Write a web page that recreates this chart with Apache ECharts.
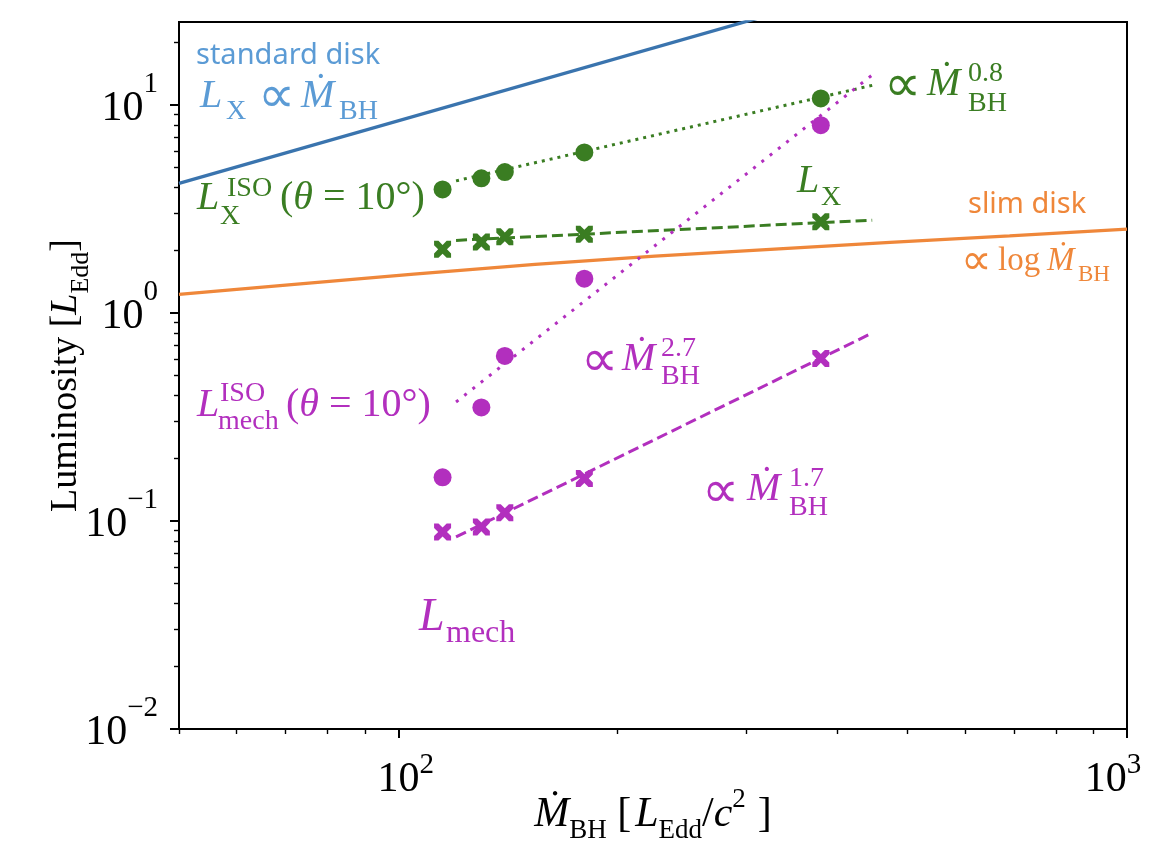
<!DOCTYPE html>
<html><head><meta charset="utf-8">
<script src="https://cdn.jsdelivr.net/npm/echarts@6/dist/echarts.min.js"></script>
<style>html,body{margin:0;padding:0;background:#fff}#c{width:1168px;height:862px}</style>
</head><body><div id="c"></div><script>
// ---------- data ----------
const mdot = [115, 130, 140, 180, 380];
const lxIso = [3.92, 4.43, 4.75, 5.90, 10.73];
const lx = [2.02, 2.19, 2.32, 2.39, 2.74];
const lmechIso = [0.162, 0.351, 0.621, 1.46, 7.98];
const lmech = [0.0885, 0.0936, 0.1096, 0.160, 0.604];
const fitX = [120, 447];
const fitLxIso = [4.31, 12.4];
const fitLx = [2.23, 2.79];
const fitLmechIso = [0.373, 13.9];
const fitLmech = [0.0838, 0.80];
const stdX = [50, 320];
const stdL = [4.19, 26.8];
const slimX = [50, 72, 105, 154, 225, 324, 473, 690, 1000];
const slimL = [1.226, 1.37, 1.535, 1.71, 1.874, 2.02, 2.18, 2.344, 2.526];
const xMajor = [100, 1000];
const yMajor = [0.01, 0.1, 1, 10];
const xMinor = [50, 60, 70, 80, 90, 200, 300, 400, 500, 600, 700, 800, 900];
const yMinor = [0.02, 0.03, 0.04, 0.05, 0.06, 0.07, 0.08, 0.09,
                0.2, 0.3, 0.4, 0.5, 0.6, 0.7, 0.8, 0.9,
                2, 3, 4, 5, 6, 7, 8, 9, 20];

// ---------- styles ----------
const SERIF = '"Liberation Serif","DejaVu Serif",serif';
const SANS = '"Noto Sans","Liberation Sans",sans-serif';
const SYM = '"DejaVu Sans","Noto Sans",sans-serif';
const GREEN = '#3a7d22', MAG = '#b22fbe', BLUE = '#3a74ae', LBLUE = '#5b9bd5', ORANGE = '#ef873a';
const XPATH = 'path://M0,0 L2.6,0 L5,2.4 L7.4,0 L10,0 L10,2.6 L7.6,5 L10,7.4 L10,10 L7.4,10 L5,7.6 L2.6,10 L0,10 L0,7.4 L2.4,5 L0,2.6 Z';

const pairs = (xs, ys) => xs.map((x, i) => [x, ys[i]]);

const mc = document.createElement('canvas').getContext('2d');
function mathLabel(pieces, color) {
  const els = []; let cx = 0;
  pieces.forEach(p => {
    const fam = p.fam || SERIF;
    const fstyle = p.it ? 'italic' : 'normal';
    const fw = p.bold ? 'bold' : 'normal';
    const font = fstyle + ' ' + fw + ' ' + p.fs + 'px ' + fam;
    mc.font = font;
    const m = mc.measureText(p.t);
    const x = (p.x != null) ? p.x : cx + (p.gap || 0);
    const asc = m.fontBoundingBoxAscent || p.fs * 0.89;
    const desc = m.fontBoundingBoxDescent || p.fs * 0.22;
    const mid = (asc - desc) / 2;
    const y = p.y - mid;
    els.push({
      type: 'text', x: x, y: y, silent: true, z: 100,
      style: { text: p.t, fontSize: p.fs, fontFamily: fam, fontStyle: fstyle, fontWeight: fw,
               fill: color, align: 'left', verticalAlign: 'middle' }
    });
    cx = x + m.width;
  });
  return els;
}
// proportional-to sign piece, placed by the visual centre of the glyph
const prop = (x, cy, fs) => ({t: '∝', fs: fs, fam: SYM, x: x, y: cy + 0.34 * fs});

const labels = [].concat(
  mathLabel([{t: 'standard disk', fs: 29, fam: SANS, x: 196, y: 67}], LBLUE),
  mathLabel([{t: 'L', it: 1, fs: 40, x: 200, y: 110}, {t: 'X', fs: 28, x: 226, y: 121},
             prop(258, 99, 52), {t: 'Ṁ', it: 1, fs: 40, x: 301, y: 110},
             {t: 'BH', fs: 28, x: 339, y: 121}], LBLUE),
  mathLabel([{t: 'L', it: 1, fs: 40, x: 197, y: 212}, {t: 'X', fs: 28, x: 220, y: 226},
             {t: 'ISO', fs: 28, x: 227, y: 198}, {t: '(', fs: 40, x: 280, y: 212},
             {t: 'θ', it: 1, fs: 40, y: 212}, {t: ' = 10°)', fs: 40, y: 212}], GREEN),
  mathLabel([{t: 'L', it: 1, fs: 40, x: 797, y: 195}, {t: 'X', fs: 28, x: 821, y: 207}], GREEN),
  mathLabel([prop(884, 88, 52), {t: 'Ṁ', it: 1, fs: 40, x: 927, y: 98},
             {t: '0.8', fs: 28, x: 968, y: 83}, {t: 'BH', fs: 28, x: 968, y: 113}], GREEN),
  mathLabel([{t: 'slim disk', fs: 29, fam: SANS, x: 968, y: 216}], ORANGE),
  mathLabel([prop(961, 263, 43), {t: 'log', fs: 33, x: 998, y: 272},
             {t: 'Ṁ', it: 1, fs: 33, x: 1047, y: 272}, {t: 'BH', fs: 23, x: 1078, y: 282}], ORANGE),
  mathLabel([{t: 'L', it: 1, fs: 40, x: 197, y: 419}, {t: 'mech', fs: 28, x: 218, y: 431},
             {t: 'ISO', fs: 28, x: 220, y: 403}, {t: '(', fs: 40, x: 286, y: 419},
             {t: 'θ', it: 1, fs: 40, y: 419}, {t: ' = 10°)', fs: 40, y: 419}], MAG),
  mathLabel([prop(581, 363, 52), {t: 'Ṁ', it: 1, fs: 40, x: 622, y: 373},
             {t: '2.7', fs: 28, x: 661, y: 358}, {t: 'BH', fs: 28, x: 661, y: 386}], MAG),
  mathLabel([prop(702, 494, 52), {t: 'Ṁ', it: 1, fs: 40, x: 747, y: 503},
             {t: '1.7', fs: 28, x: 789, y: 488}, {t: 'BH', fs: 28, x: 789, y: 517}], MAG),
  mathLabel([{t: 'L', it: 1, fs: 46, x: 419, y: 633}, {t: 'mech', fs: 32, x: 446, y: 645}], MAG)
);

const expOf = v => Math.round(Math.log10(v));
const expTxt = e => (e < 0 ? '−' + (-e) : '' + e);
function yTickLabel(v) { return '{b|10}{s|' + expTxt(expOf(v)) + '}'; }
function xTickLabel(v) {
  const e = expOf(v);
  if (v >= xMajor[xMajor.length - 1]) return '{b|10}{s3|' + expTxt(e) + '}';
  return '{bx|10}{s|' + expTxt(e) + '}';
}
const yTickRich = {
  b: {fontSize: 42, fontFamily: SERIF, color: '#000', lineHeight: 60, verticalAlign: 'bottom'},
  s: {fontSize: 29, fontFamily: SERIF, color: '#000', lineHeight: 28, verticalAlign: 'top'}
};
const xTickRich = {
  b: {fontSize: 42, fontFamily: SERIF, color: '#000', lineHeight: 50, verticalAlign: 'bottom'},
  bx: {fontSize: 42, fontFamily: SERIF, color: '#000', lineHeight: 50, verticalAlign: 'bottom', padding: [0, 0, 0, 15]},
  s: {fontSize: 29, fontFamily: SERIF, color: '#000', lineHeight: 28, verticalAlign: 'top'},
  s3: {fontSize: 29, fontFamily: SERIF, color: '#000', lineHeight: 28, verticalAlign: 'top', padding: [0, 28, 0, 0]}
};
const xNameRich = {
  n: {fontSize: 42, fontFamily: SERIF, color: '#000', lineHeight: 58, verticalAlign: 'middle'},
  nr: {fontSize: 42, fontFamily: SERIF, color: '#000', lineHeight: 58, verticalAlign: 'middle', padding: [0, 0, 0, 12]},
  i: {fontSize: 42, fontFamily: SERIF, fontStyle: 'italic', color: '#000', lineHeight: 58, verticalAlign: 'middle'},
  il: {fontSize: 42, fontFamily: SERIF, fontStyle: 'italic', color: '#000', lineHeight: 58, verticalAlign: 'middle', padding: [0, 0, 0, 4]},
  sub: {fontSize: 27, fontFamily: SERIF, color: '#000', lineHeight: 24, verticalAlign: 'bottom'},
  sup: {fontSize: 27, fontFamily: SERIF, color: '#000', lineHeight: 46, verticalAlign: 'top'}
};
const yNameRich = {
  n: {fontSize: 38, fontFamily: SERIF, color: '#000', lineHeight: 56, verticalAlign: 'middle'},
  i: {fontSize: 38, fontFamily: SERIF, fontStyle: 'italic', color: '#000', lineHeight: 56, verticalAlign: 'middle'},
  sub: {fontSize: 26, fontFamily: SERIF, color: '#000', lineHeight: 32, verticalAlign: 'bottom'}
};
const AX = {color: '#000', width: 2};

const lineSeries = (xs, ys, color, type, width, z) => ({
  type: 'line', data: pairs(xs, ys), symbol: 'none', showSymbol: false, silent: true,
  lineStyle: {color: color, width: width, type: type, cap: 'butt'}, z: z || 2, clip: true
});
const scatterSeries = (xs, ys, color, symbol, size) => ({
  type: 'scatter', data: pairs(xs, ys), symbol: symbol, symbolSize: size, silent: true,
  itemStyle: {color: color, opacity: 1}, z: 5
});

const option = {
  animation: false,
  backgroundColor: '#fff',
  grid: {left: 179, right: 41, top: 22, bottom: 133, show: true, borderColor: '#000', borderWidth: 2,
         backgroundColor: 'transparent', containLabel: false, outerBoundsMode: 'none'},
  xAxis: [
    {type: 'log', logBase: 10, min: 50, max: 1000, position: 'bottom',
     axisLine: {show: true, onZero: false, lineStyle: AX},
     axisTick: {show: true, length: 9, lineStyle: AX, customValues: xMajor},
     axisLabel: {show: true, customValues: xMajor, formatter: xTickLabel, rich: xTickRich, margin: 22},
     splitLine: {show: false}, minorTick: {show: false},
     name: '{i|Ṁ}{sub|BH}{n| [}{il|L}{sub|Edd}{n|/}{i|c}{sup|2}{nr|]}',
     nameLocation: 'middle', nameGap: 57, nameMoveOverlap: false, nameTextStyle: {rich: xNameRich}},
    {type: 'log', logBase: 10, min: 50, max: 1000, position: 'bottom',
     axisLine: {show: false, onZero: false},
     axisTick: {show: true, length: 5, lineStyle: {color: '#000', width: 1.4}, customValues: xMinor},
     axisLabel: {show: false}, splitLine: {show: false}}
  ],
  yAxis: [
    {type: 'log', logBase: 10, min: 0.01, max: 25, position: 'left',
     axisLine: {show: true, onZero: false, lineStyle: AX},
     axisTick: {show: true, length: 9, lineStyle: AX, customValues: yMajor},
     axisLabel: {show: true, customValues: yMajor, formatter: yTickLabel, rich: yTickRich, margin: 21,
                 padding: [0, 0, 10, 0]},
     splitLine: {show: false}, minorTick: {show: false},
     name: '{n|Luminosity [}{i|L}{sub|Edd}{n|]}',
     nameLocation: 'middle', nameRotate: 90, nameGap: 85, nameMoveOverlap: false,
     nameTextStyle: {rich: yNameRich}},
    {type: 'log', logBase: 10, min: 0.01, max: 25, position: 'left',
     axisLine: {show: false, onZero: false},
     axisTick: {show: true, length: 5, lineStyle: {color: '#000', width: 1.4}, customValues: yMinor},
     axisLabel: {show: false}, splitLine: {show: false}}
  ],
  series: [
    lineSeries(stdX, stdL, BLUE, 'solid', 3.3, 2),
    lineSeries(slimX, slimL, ORANGE, 'solid', 3.3, 2),
    lineSeries(fitX, fitLxIso, GREEN, [3, 5], 3, 3),
    lineSeries(fitX, fitLx, GREEN, [11, 5], 3, 3),
    lineSeries(fitX, fitLmechIso, MAG, [3, 7.5], 3, 3),
    lineSeries(fitX, fitLmech, MAG, [11, 5], 3, 3),
    scatterSeries(mdot, lxIso, GREEN, 'circle', 18),
    scatterSeries(mdot, lx, GREEN, XPATH, 17),
    scatterSeries(mdot, lmechIso, MAG, 'circle', 18),
    scatterSeries(mdot, lmech, MAG, XPATH, 17)
  ],
  graphic: {elements: labels}
};
const chart = echarts.init(document.getElementById('c'), null, {renderer: 'canvas'});
chart.setOption(option);
</script></body></html>
